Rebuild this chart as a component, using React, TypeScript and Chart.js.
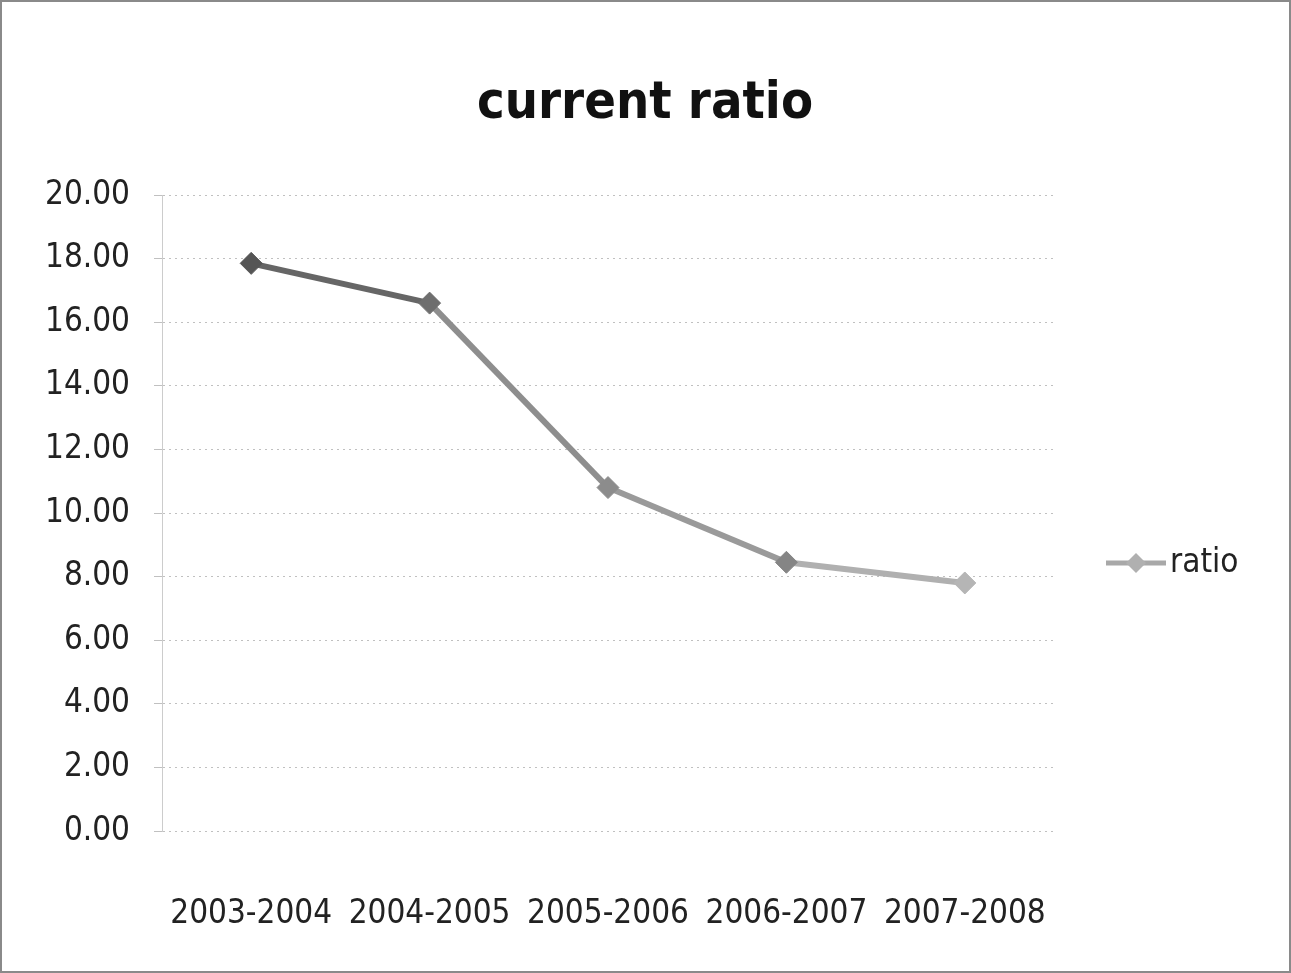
import React, { useEffect, useRef } from "react";
import { Chart, registerables } from "chart.js";

Chart.register(...registerables);

const periods = ["2003-2004", "2004-2005", "2005-2006", "2006-2007", "2007-2008"];
const ratioValues = [17.85, 16.6, 10.8, 8.45, 7.8];
const seriesName = "ratio";
const chartTitle = "current ratio";
const pointShades = ["#555555", "#6e6e6e", "#8c8c8c", "#858585", "#b5b5b5"];
const segmentShades = ["#666666", "#8e8e8e", "#9a9a9a", "#b0b0b0"];

const FONT = "'DejaVu Sans Condensed', 'Liberation Sans Narrow', sans-serif";

// Title centred over the whole canvas, and a legend on the right:
// a short line with a diamond marker, then the series name.
const decorations = {
  id: "decorations",
  afterDraw(chart: any) {
    const ctx = chart.ctx;
    ctx.save();
    ctx.fillStyle = "#111";
    ctx.font = `bold 52px ${FONT}`;
    ctx.textAlign = "center";
    ctx.textBaseline = "alphabetic";
    ctx.fillText(chartTitle, 643, 116);

    const y = 561;
    const x0 = 1104;
    ctx.strokeStyle = "#a8a8a8";
    ctx.lineWidth = 5;
    ctx.beginPath();
    ctx.moveTo(x0, y);
    ctx.lineTo(x0 + 60, y);
    ctx.stroke();
    ctx.fillStyle = "#b0b0b0";
    ctx.beginPath();
    const cx = x0 + 30, r = 10;
    ctx.moveTo(cx, y - r);
    ctx.lineTo(cx + r, y);
    ctx.lineTo(cx, y + r);
    ctx.lineTo(cx - r, y);
    ctx.closePath();
    ctx.fill();
    ctx.fillStyle = "#222";
    ctx.font = `33px ${FONT}`;
    ctx.textAlign = "left";
    ctx.textBaseline = "middle";
    ctx.fillText(seriesName, x0 + 64, y);
    ctx.restore();
  },
};

export default function App() {
  const ref = useRef<HTMLCanvasElement>(null);

  useEffect(() => {
    document.body.style.margin = "0";
    const chart = new Chart(ref.current!, {
      type: "line",
      data: {
        labels: periods,
        datasets: [
          {
            label: seriesName,
            data: ratioValues,
            borderWidth: 6,
            borderColor: "#8a8a8a",
            segment: {
              borderColor: (c: any) => segmentShades[c.p0DataIndex],
            },
            pointStyle: "rectRot",
            pointRadius: 11,
            pointBackgroundColor: pointShades,
            pointBorderColor: pointShades,
            pointBorderWidth: 1,
            tension: 0,
          },
        ],
      },
      options: {
        animation: false,
        responsive: false,
        layout: { padding: { top: 193, right: 235, bottom: 0, left: 0 } },
        plugins: {
          legend: { display: false },
          tooltip: { enabled: false },
          title: { display: false },
        },
        scales: {
          x: {
            offset: true,
            grid: { display: false },
            border: { display: false },
            afterFit: (s: any) => {
              s.height = 140;
            },
            ticks: {
              color: "#222",
              font: { family: FONT, size: 33 },
              padding: 56,
              maxRotation: 0,
              autoSkip: false,
            },
          },
          y: {
            min: 0,
            max: 20,
            afterFit: (s: any) => {
              s.width = 160;
            },
            ticks: {
              stepSize: 2,
              color: "#222",
              font: { family: FONT, size: 33 },
              padding: 24,
              callback: (v: any) => Number(v).toFixed(2),
            },
            grid: {
              color: "#c0c0c0",
              lineWidth: 1,
              tickLength: 8,
            },
            border: { display: true, color: "#cccccc", dash: [2, 4] },
          },
        },
      },
      plugins: [decorations],
    });
    return () => chart.destroy();
  }, []);

  return (
    <div
      style={{
        width: 1291,
        height: 973,
        boxSizing: "border-box",
        border: "2px solid #8a8a8a",
        background: "#fff",
        overflow: "hidden",
      }}
    >
      <canvas ref={ref} width={1287} height={969} style={{ display: "block" }} />
    </div>
  );
}
